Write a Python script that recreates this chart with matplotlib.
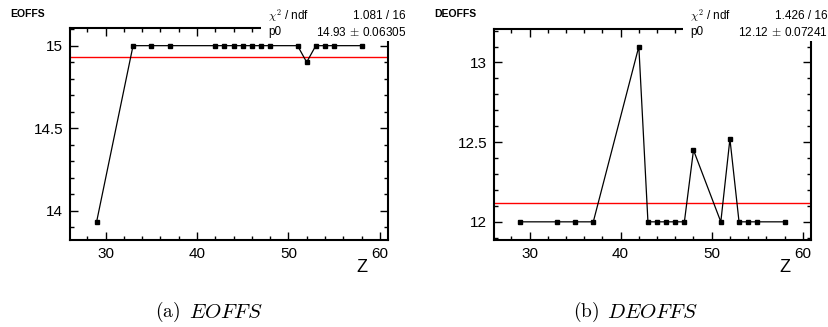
import matplotlib
matplotlib.use("Agg")
import matplotlib.pyplot as plt
from matplotlib.ticker import MultipleLocator, FormatStrFormatter
from matplotlib.patches import Rectangle

# =========================
# Datos
# =========================

z_vals = [29, 33, 35, 37, 42, 43, 44, 45, 46, 47, 48, 51, 52, 53, 54, 55, 58]

eoffs = [13.93, 15, 15, 15, 15, 15, 15, 15, 15, 15, 15, 15, 14.9, 15, 15, 15, 15]
deoffs = [12, 12, 12, 12, 13.1, 12, 12, 12, 12, 12, 12.45, 12, 12.52, 12, 12, 12, 12]

fit_eoffs = 14.93
fit_deoffs = 12.12

paneles = [
    {"titulo": "EOFFS", "y": eoffs, "fit": fit_eoffs,
     "chi2": "1.081 / 16", "p0": r"14.93$\,\pm\,$0.06305",
     "letra": r"$\mathrm{(a)}$", "nombre": r"$EOFFS$",
     "ylim": (13.823, 15.107),
     "rect": (70, 28, 388, 240), "box_x": 261, "txt_r": 406,
     "cap_x": (155, 189)},
    {"titulo": "DEOFFS", "y": deoffs, "fit": fit_deoffs,
     "chi2": "1.426 / 16", "p0": r"12.12$\,\pm\,$0.07241",
     "letra": r"$\mathrm{(b)}$", "nombre": r"$DEOFFS$",
     "ylim": (11.886, 13.21),
     "rect": (494, 29, 811, 240), "box_x": 683, "txt_r": 828,
     "cap_x": (573, 607)},
]

W, H = 829, 327
plt.rcParams["font.family"] = ["Liberation Sans", "DejaVu Sans"]
plt.rcParams["mathtext.fontset"] = "cm"

fig = plt.figure(figsize=(W / 100, H / 100), dpi=100)


def fx(px):
    return px / W


def fy(py):
    return 1 - py / H


for p in paneles:
    x0, y0, x1, y1 = p["rect"]
    ax = fig.add_axes([fx(x0), fy(y1), (x1 - x0) / W, (y1 - y0) / H])

    ax.plot(z_vals, p["y"], color="black", lw=0.9, marker="s", ms=2.2, zorder=3)
    ax.axhline(p["fit"], color="red", lw=1.0, zorder=2)

    ax.set_xlim(26.1, 60.9)
    ax.set_ylim(*p["ylim"])
    ax.xaxis.set_major_locator(MultipleLocator(10))
    ax.xaxis.set_minor_locator(MultipleLocator(2))
    ax.yaxis.set_major_locator(MultipleLocator(0.5))
    ax.yaxis.set_minor_locator(MultipleLocator(0.1))
    ax.yaxis.set_major_formatter(FormatStrFormatter("%g"))
    ax.tick_params(which="both", direction="in", top=True, right=True,
                   width=1.0, labelsize=11)
    ax.tick_params(which="major", length=5.5, pad=5)
    ax.tick_params(which="minor", length=2.8)
    for s in ax.spines.values():
        s.set_linewidth(1.5)

    # Caja de estadisticas (tapa el marco como en ROOT)
    fig.patches.append(Rectangle((fx(p["box_x"]), fy(41)), fx(150), fy(0) - fy(41),
                                 transform=fig.transFigure,
                                 facecolor="white", edgecolor="none", zorder=10))
    fig.text(fx(p["box_x"] + 7), fy(16), r"$\chi^2$ / ndf", fontsize=8.5,
             va="center", ha="left", zorder=11)
    fig.text(fx(p["txt_r"]), fy(16), p["chi2"], fontsize=8.5,
             va="center", ha="right", zorder=11)
    fig.text(fx(p["box_x"] + 7), fy(32), "p0", fontsize=8.5,
             va="center", ha="left", zorder=11)
    fig.text(fx(p["txt_r"]), fy(32), p["p0"], fontsize=8.5,
             va="center", ha="right", zorder=11)

    fig.text(fx(x0 - 60), fy(14), p["titulo"], fontsize=7.5, weight="bold",
             va="center", ha="left")
    fig.text(fx(x1 - 26), fy(268), "Z", fontsize=13, va="center", ha="center")
    fig.text(fx(p["cap_x"][0]), fy(312), p["letra"], fontsize=14,
             va="center", ha="left")
    fig.text(fx(p["cap_x"][1]), fy(312), p["nombre"], fontsize=15,
             va="center", ha="left")

fig.savefig("out.png", dpi=100)
